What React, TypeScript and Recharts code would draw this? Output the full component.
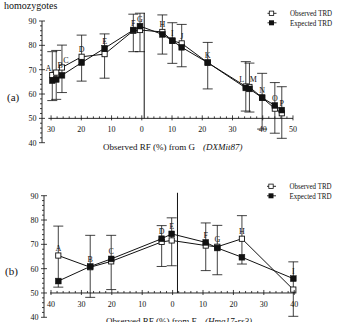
import React from 'react';
import { LineChart, Line, XAxis, YAxis, ErrorBar, ReferenceLine, LabelList } from 'recharts';

const SERIF = '"Liberation Serif", "Times New Roman", Times, serif';
const INK = '#111';

// ---------- Panel (a): RF from G (DXMit87) ----------
const markersA = ['A', 'B', 'C', 'D', 'E', 'F', 'G', 'H', 'I', 'J', 'K', 'L', 'M', 'N', 'O', 'P'];
const rfA = [-29.6, -28.3, -26.4, -19.9, -12.3, -2.8, -0.6, 6.8, 10.1, 13.2, 21.8, 34.4, 35.6, 39.8, 44.0, 46.3];
const observedA = [67.8, 68.8, 70.9, 75.3, 76.4, 86.0, 86.3, 85.5, 81.9, 80.8, 72.9, 63.1, 62.9, 58.5, 54.0, 52.1];
const expectedA = [65.5, 66.0, 67.7, 72.9, 78.8, 86.3, 87.9, 84.5, 81.9, 79.2, 72.9, 62.5, 62.1, 58.5, 55.3, 53.4];
const errHighA = [77.4, 77.9, 80.1, 84.2, 84.7, 92.8, 93.2, 92.5, 89.3, 88.6, 81.2, 73.3, 72.7, 68.5, 64.7, 63.0];
const errLowA = [57.3, 57.8, 60.6, 65.3, 66.5, 77.4, 77.4, 76.4, 72.6, 71.2, 62.1, 53.0, 52.6, 45.6, 43.9, 41.8];

// ---------- Panel (b): RF from E (Hmg17-rs3) ----------
const markersB = ['A', 'B', 'C', 'D', 'E', 'F', 'G', 'H', 'I'];
const rfB = [-37.6, -27.1, -20.2, -3.6, -0.3, 10.9, 14.7, 22.8, 39.7];
const observedB = [65.4, 60.6, 63.0, 71.0, 71.6, 69.5, 69.0, 72.3, 51.4];
const expectedB = [54.9, 60.9, 64.0, 72.3, 74.3, 70.8, 68.5, 64.7, 55.9];
const errHighB = [77.5, 73.7, 73.7, 77.7, 80.9, 78.8, 77.8, 81.8, 62.8];
const errLowB = [52.4, 48.2, 51.4, 60.9, 61.2, 59.2, 57.5, 61.9, 40.4];

// ---------- ticks ----------
const yTickValues = [40, 42, 44, 46, 48, 50, 52, 54, 56, 58, 60, 62, 64, 66, 68, 70, 72, 74, 76, 78, 80, 82, 84, 86, 88, 90];
const xTicksA = [-30, -28, -26, -24, -22, -20, -18, -16, -14, -12, -10, -8, -6, -4, -2, 0, 2, 4, 6, 8, 10, 12, 14, 16, 18, 20, 22, 24, 26, 28, 30, 32, 34, 36, 38, 40, 42, 44, 46, 48, 50];
const xTicksB = [-40, -38, -36, -34, -32, -30, -28, -26, -24, -22, -20, -18, -16, -14, -12, -10, -8, -6, -4, -2, 0, 2, 4, 6, 8, 10, 12, 14, 16, 18, 20, 22, 24, 26, 28, 30, 32, 34, 36, 38, 40];

const Y_MIN = 40;
const Y_MAX = 95;
const Y_AXIS_TOP = 90;
const X_AXIS_AT = 50;
const X_AXIS_H = 2;
const CLOSE_RF = 2;

function buildRows(names: string[], rf: number[], obs: number[], exp: number[], lo: number[], hi: number[]) {
  return names.map((n, i) => {
    const prevClose = i > 0 && rf[i] - rf[i - 1] < CLOSE_RF;
    const nextClose = i < rf.length - 1 && rf[i + 1] - rf[i] < CLOSE_RF;
    return {
      name: n,
      rf: rf[i],
      obs: obs[i],
      exp: exp[i],
      err: [obs[i] - lo[i], hi[i] - obs[i]],
      top: Math.max(obs[i], exp[i]),
      side: prevClose ? 1 : nextClose ? -1 : 0,
    };
  });
}

const rowsA = buildRows(markersA, rfA, observedA, expectedA, errLowA, errHighA);
const rowsB = buildRows(markersB, rfB, observedB, expectedB, errLowB, errHighB);

const openSquare = (p: any) => {
  if (p.cx == null || p.cy == null) return <g key={`o${p.index}`} />;
  return <rect key={`o${p.index}`} x={p.cx - 2.6} y={p.cy - 2.6} width={5.2} height={5.2} fill="#fff" stroke={INK} strokeWidth={0.9} />;
};
const filledSquare = (p: any) => {
  if (p.cx == null || p.cy == null) return <g key={`f${p.index}`} />;
  return <rect key={`f${p.index}`} x={p.cx - 2.9} y={p.cy - 2.9} width={5.8} height={5.8} fill={INK} stroke={INK} strokeWidth={0.5} />;
};

const makeMarkerLabel = (rows: any[]) => (props: any) => {
  const { x, y, width, value, index } = props;
  if (x == null || y == null) return null;
  const side = rows[index] ? rows[index].side : 0;
  const cx = x + (width || 0) / 2 + side * 4;
  return (
    <text x={cx} y={y - 4.5} textAnchor="middle" fontSize={8} fontFamily={SERIF} fill={INK} style={{ fill: INK }}>
      {value}
    </text>
  );
};

const YTick = (props: any) => {
  const { x, y, payload } = props;
  const v = payload.value;
  const major = v % 10 === 0;
  return (
    <g>
      <line x1={major ? x - 3 : x - 2} x2={major ? x + 3 : x} y1={y} y2={y} stroke={INK} strokeWidth={0.8} />
      {major && (
        <text x={x - 5.5} y={y + 3} textAnchor="end" fontSize={8} fontFamily={SERIF} fill={INK}>
          {v}
        </text>
      )}
    </g>
  );
};

type PanelProps = {
  rows: any[];
  width: number;
  height: number;
  margin: { top: number; right: number; bottom: number; left: number };
  xDomain: [number, number];
  xTicks: number[];
  xLineFrom: number;
  xLineTo: number;
  vLineX: number;
  vLineTop: number;
};

function Panel({ rows, width, height, margin, xDomain, xTicks, xLineFrom, xLineTo, vLineX, vLineTop }: PanelProps) {
  const plotTop = margin.top;
  const plotBottom = height - margin.bottom - X_AXIS_H;
  const axisY = plotTop + ((plotBottom - plotTop) * (Y_MAX - X_AXIS_AT)) / (Y_MAX - Y_MIN);
  const XTick = (props: any) => {
    const { x, payload } = props;
    const v = payload.value;
    const major = v % 10 === 0;
    return (
      <g>
        <line x1={x} x2={x} y1={axisY - (major ? 3 : 2)} y2={axisY + (major ? 2 : 0)} stroke={INK} strokeWidth={0.8} />
        {major && (
          <text x={x} y={axisY + 14} textAnchor="middle" fontSize={8} fontFamily={SERIF} fill={INK}>
            {Math.abs(v)}
          </text>
        )}
      </g>
    );
  };
  return (
    <LineChart width={width} height={height} data={rows} margin={margin}>
      <XAxis
        type="number"
        dataKey="rf"
        domain={xDomain}
        ticks={xTicks}
        interval={0}
        axisLine={false}
        tickLine={false}
        tickSize={0}
        tickMargin={0}
        height={X_AXIS_H}
        tick={XTick}
      />
      <YAxis
        type="number"
        domain={[Y_MIN, Y_MAX]}
        ticks={yTickValues}
        interval={0}
        axisLine={false}
        tickLine={false}
        tickSize={0}
        tickMargin={0}
        width={30}
        tick={YTick}
      />
      <ReferenceLine
        segment={[{ x: xDomain[0], y: Y_MIN }, { x: xDomain[0], y: Y_AXIS_TOP }]}
        stroke={INK}
        strokeWidth={0.9}
        ifOverflow="visible"
      />
      <ReferenceLine
        segment={[{ x: xLineFrom, y: X_AXIS_AT }, { x: xLineTo, y: X_AXIS_AT }]}
        stroke={INK}
        strokeWidth={0.9}
        ifOverflow="visible"
      />
      <ReferenceLine
        segment={[{ x: vLineX, y: X_AXIS_AT }, { x: vLineX, y: vLineTop }]}
        stroke={INK}
        strokeWidth={1}
        ifOverflow="visible"
      />
      <Line
        dataKey="obs"
        stroke={INK}
        strokeWidth={1}
        dot={openSquare}
        activeDot={false}
        isAnimationActive={false}
      >
        <ErrorBar dataKey="err" direction="y" width={5} stroke={INK} strokeWidth={0.8} isAnimationActive={false} />
      </Line>
      <Line
        dataKey="exp"
        stroke={INK}
        strokeWidth={1}
        dot={filledSquare}
        activeDot={false}
        isAnimationActive={false}
      />
      <Line dataKey="top" stroke="none" dot={false} activeDot={false} isAnimationActive={false}>
        <LabelList dataKey="name" content={makeMarkerLabel(rows)} />
      </Line>
    </LineChart>
  );
}

function LegendBlock({ x, y }: { x: number; y: number }) {
  return (
    <g>
      <line x1={x - 4} x2={x + 5} y1={y} y2={y} stroke={INK} strokeWidth={0.9} />
      <rect x={x - 2.2} y={y - 2.2} width={4.4} height={4.4} fill="#fff" stroke={INK} strokeWidth={0.8} />
      <text x={x + 18.5} y={y + 3} fontSize={8} fontFamily={SERIF} fill={INK} textLength={42} lengthAdjust="spacingAndGlyphs">
        Observed TRD
      </text>
      <line x1={x - 4} x2={x + 5} y1={y + 9.5} y2={y + 9.5} stroke={INK} strokeWidth={0.9} />
      <rect x={x - 2.5} y={y + 7} width={5} height={5} fill={INK} />
      <text x={x + 18.5} y={y + 12.5} fontSize={8} fontFamily={SERIF} fill={INK} textLength={42} lengthAdjust="spacingAndGlyphs">
        Expected TRD
      </text>
    </g>
  );
}

export default function App() {
  return (
    <div style={{ position: 'absolute', left: 0, top: 0, width: 337, height: 322, background: '#fff', overflow: 'hidden' }}>
      <div style={{ position: 'absolute', left: 0, top: 0 }}>
        <Panel
          rows={rowsA}
          width={337}
          height={165}
          margin={{ top: 8.83, right: 41, bottom: 165 - 142.7 - X_AXIS_H, left: 12 }}
          xDomain={[-33, 51]}
          xTicks={xTicksA}
          xLineFrom={-30.9}
          xLineTo={50}
          vLineX={0.8}
          vLineTop={93.3}
        />
      </div>
      <div style={{ position: 'absolute', left: 0, top: 170 }}>
        <Panel
          rows={rowsB}
          width={337}
          height={152}
          margin={{ top: 13.54, right: 36.7, bottom: 152 - 147.3 - X_AXIS_H, left: 14 }}
          xDomain={[-42.3, 42]}
          xTicks={xTicksB}
          xLineFrom={-40.3}
          xLineTo={40.7}
          vLineX={1.6}
          vLineTop={91.2}
        />
      </div>
      <svg width={337} height={322} style={{ position: 'absolute', left: 0, top: 0, pointerEvents: 'none' }}>
        <text x={4} y={8.5} fontSize={10} fontFamily={SERIF} fill={INK}>homozygotes</text>
        <text x={7} y={100.5} fontSize={11} fontFamily={SERIF} fill={INK}>(a)</text>
        <text x={5} y={275} fontSize={11} fontFamily={SERIF} fill={INK}>(b)</text>
        <text x={103} y={149.5} fontSize={9} fontFamily={SERIF} fill={INK}>
          Observed RF (%) from G
          <tspan dx={8} fontStyle="italic">(DXMit87)</tspan>
        </text>
        <text x={106} y={323.5} fontSize={9} fontFamily={SERIF} fill={INK}>
          Observed RF (%) from E
          <tspan dx={8} fontStyle="italic">(Hmg17-rs3)</tspan>
        </text>
        <LegendBlock x={271.5} y={13.3} />
        <LegendBlock x={271} y={186.3} />
      </svg>
    </div>
  );
}
